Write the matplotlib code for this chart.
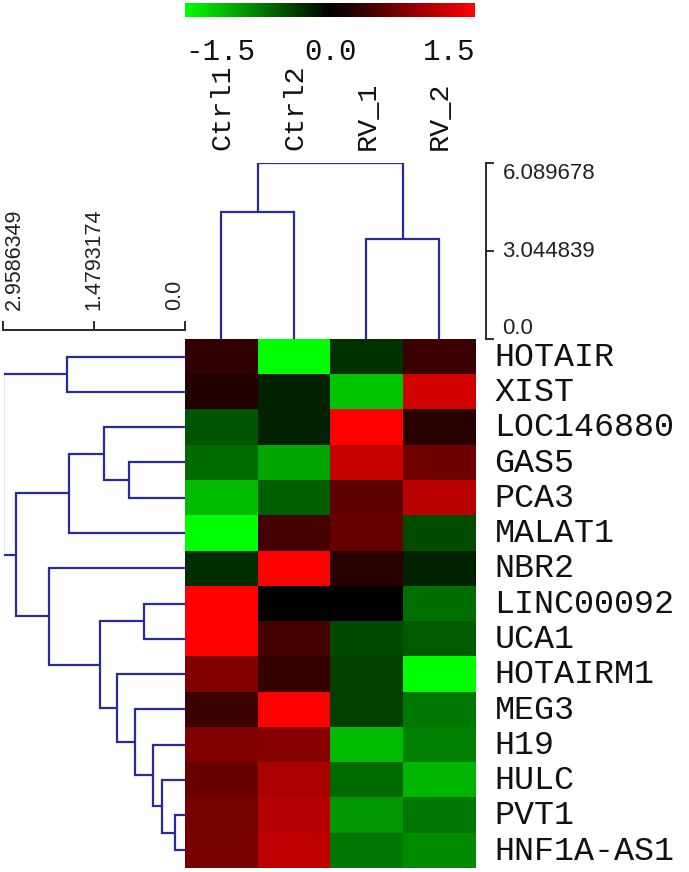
import numpy as np
import matplotlib
matplotlib.use("Agg")
import matplotlib.pyplot as plt
from matplotlib.colors import LinearSegmentedColormap, Normalize
from matplotlib.colorbar import ColorbarBase

# ---------------- data ----------------
genes = ["HOTAIR", "XIST", "LOC146880", "GAS5", "PCA3", "MALAT1", "NBR2",
         "LINC00092", "UCA1", "HOTAIRM1", "MEG3", "H19", "HULC", "PVT1",
         "HNF1A-AS1"]
samples = ["Ctrl1", "Ctrl2", "RV_1", "RV_2"]

ctrl1 = [0.30, 0.20, -0.50, -0.62, -1.09, -1.60, -0.26, 1.60, 1.60, 0.76, 0.35, 0.76, 0.62, 0.70, 0.70]
ctrl2 = [-1.60, -0.20, -0.20, -0.97, -0.56, 0.41, 1.60, -0.02, 0.41, 0.32, 1.60, 0.79, 1.00, 1.06, 1.12]
rv1 = [-0.30, -1.15, 1.55, 1.15, 0.56, 0.59, 0.24, 0.01, -0.44, -0.38, -0.38, -1.09, -0.62, -0.88, -0.70]
rv2 = [0.35, 1.24, 0.24, 0.65, 1.09, -0.44, -0.20, -0.65, -0.53, -1.60, -0.70, -0.74, -1.06, -0.70, -0.82]

color_ticks = [-1.5, 0.0, 1.5]
color_tick_labels = ["-1.5", "0.0", "1.5"]

# dendrogram trees: (height, left, right); leaves are row/column indices
row_tree = (2.9586349,
            (1.917, 0, 1),
            (2.751,
             (1.891, (1.324, 2, (0.910, 3, 4)), 5),
             (2.218, 6,
              (1.389, (0.670, 7, 8),
               (1.116, 9, (0.817, 10, (0.528, 11, (0.371, 12, (0.163, 13, 14)))))))))
col_tree = (6.089678, (4.39, 0, 1), (3.47, 2, 3))

row_scale = [2.9586349, 1.4793174, 0.0]
row_scale_labels = ["2.9586349", "1.4793174", "0.0"]
col_scale = [6.089678, 3.044839, 0.0]
col_scale_labels = ["6.089678", "3.044839", "0.0"]

# ---------------- style ----------------
W, H = 689, 872
DEND = "#2a2a9c"
SCALE = "#2b2b2b"
MONO = "Liberation Mono"
SANS = "Liberation Sans"

cmap = LinearSegmentedColormap.from_list("gkr", [(0, 1, 0), (0, 0, 0), (1, 0, 0)])
norm = Normalize(vmin=-1.5, vmax=1.5)

fig = plt.figure(figsize=(W / 100, H / 100), dpi=100)


def frac(x0, y0, x1, y1):
    return [x0 / W, 1 - y1 / H, (x1 - x0) / W, (y1 - y0) / H]


# heatmap
hm_l, hm_r, hm_t, hm_b = 185, 475, 339, 868
ax = fig.add_axes(frac(hm_l, hm_t, hm_r, hm_b))
data = np.array([ctrl1, ctrl2, rv1, rv2]).T
ax.imshow(data, cmap=cmap, norm=norm, aspect="auto", interpolation="nearest",
          extent=[0, len(samples), len(genes), 0])
ax.set_xlim(0, len(samples))
ax.set_ylim(len(genes), 0)
ax.set_xticks([])
ax.set_yticks([])
for s in ax.spines.values():
    s.set_visible(False)
for i, g in enumerate(genes):
    ax.text(len(samples) + 0.27, i + 0.52, g, ha="left", va="center",
            fontsize=24, family=MONO, color="#111111")


def draw_tree(axd, node, horizontal):
    """Draw a dendrogram node; returns (leaf-axis position, height)."""
    if isinstance(node, int):
        return node + 0.5, 0.0
    h, a, b = node
    pa, ha_ = draw_tree(axd, a, horizontal)
    pb, hb = draw_tree(axd, b, horizontal)
    if horizontal:  # column tree: x = position, y = height
        axd.plot([pa, pa, pb, pb], [ha_, h, h, hb], color=DEND, lw=1.6,
                 solid_capstyle="butt", solid_joinstyle="miter")
    else:  # row tree: y = position, x = height
        axd.plot([ha_, h, h, hb], [pa, pa, pb, pb], color=DEND, lw=1.6,
                 solid_capstyle="butt", solid_joinstyle="miter")
    return (pa + pb) / 2, h


# column dendrogram
axc = fig.add_axes(frac(hm_l, 163.3, hm_r, hm_t))
draw_tree(axc, col_tree, True)
axc.set_xlim(0, len(samples))
axc.set_ylim(0, col_tree[0])
axc.axis("off")
# column scale bar
bx = 4.15
axc.plot([bx, bx], [min(col_scale), max(col_scale)], color=SCALE, lw=1.4,
         clip_on=False)
for v, lab, va in zip(col_scale, col_scale_labels, ["top", "center", "bottom"]):
    axc.plot([bx, bx + 0.1], [v, v], color=SCALE, lw=1.4, clip_on=False)
    axc.text(bx + 0.23, v, lab, ha="left", va=va, fontsize=16, family=SANS,
             color="#222222", clip_on=False)

# row dendrogram
axr = fig.add_axes(frac(3.5, hm_t, hm_l, hm_b))
draw_tree(axr, row_tree, False)
axr.set_xlim(row_tree[0], 0)
axr.set_ylim(len(genes), 0)
axr.axis("off")
rowpx = (hm_b - hm_t) / len(genes)
by = -9 / rowpx
axr.plot([max(row_scale), min(row_scale)], [by, by], color=SCALE, lw=1.4,
         clip_on=False)
for v, lab, va in zip(row_scale, row_scale_labels, ["top", "center", "bottom"]):
    axr.plot([v, v], [by, by - 8 / rowpx], color=SCALE, lw=1.4, clip_on=False)
    axr.text(v, by - 20 / rowpx, lab, rotation=90, rotation_mode="anchor",
             ha="left", va=va, fontsize=15.5, family=SANS, color="#222222",
             clip_on=False)

# column labels
axl = fig.add_axes(frac(hm_l, 60, hm_r, 150))
axl.set_xlim(0, len(samples))
axl.set_ylim(0, 1)
axl.axis("off")
for j, s in enumerate(samples):
    axl.text(j + 0.5 + 0.02, 0, s, rotation=90, rotation_mode="anchor",
             ha="left", va="center", fontsize=20.5, family=MONO, color="#111111")

# colour bar
cax = fig.add_axes(frac(hm_l, 3, hm_r, 17))
cb = ColorbarBase(cax, cmap=cmap, norm=norm, orientation="horizontal")
cb.outline.set_visible(False)
cb.set_ticks([])
for v, lab, ha in zip(color_ticks, color_tick_labels, ["left", "center", "right"]):
    cax.text(v, -(38 - 17) / 14, lab, ha=ha, va="top", fontsize=21,
             family=MONO, color="#111111", transform=cax.get_xaxis_transform())

fig.savefig("out.png", dpi=100)
